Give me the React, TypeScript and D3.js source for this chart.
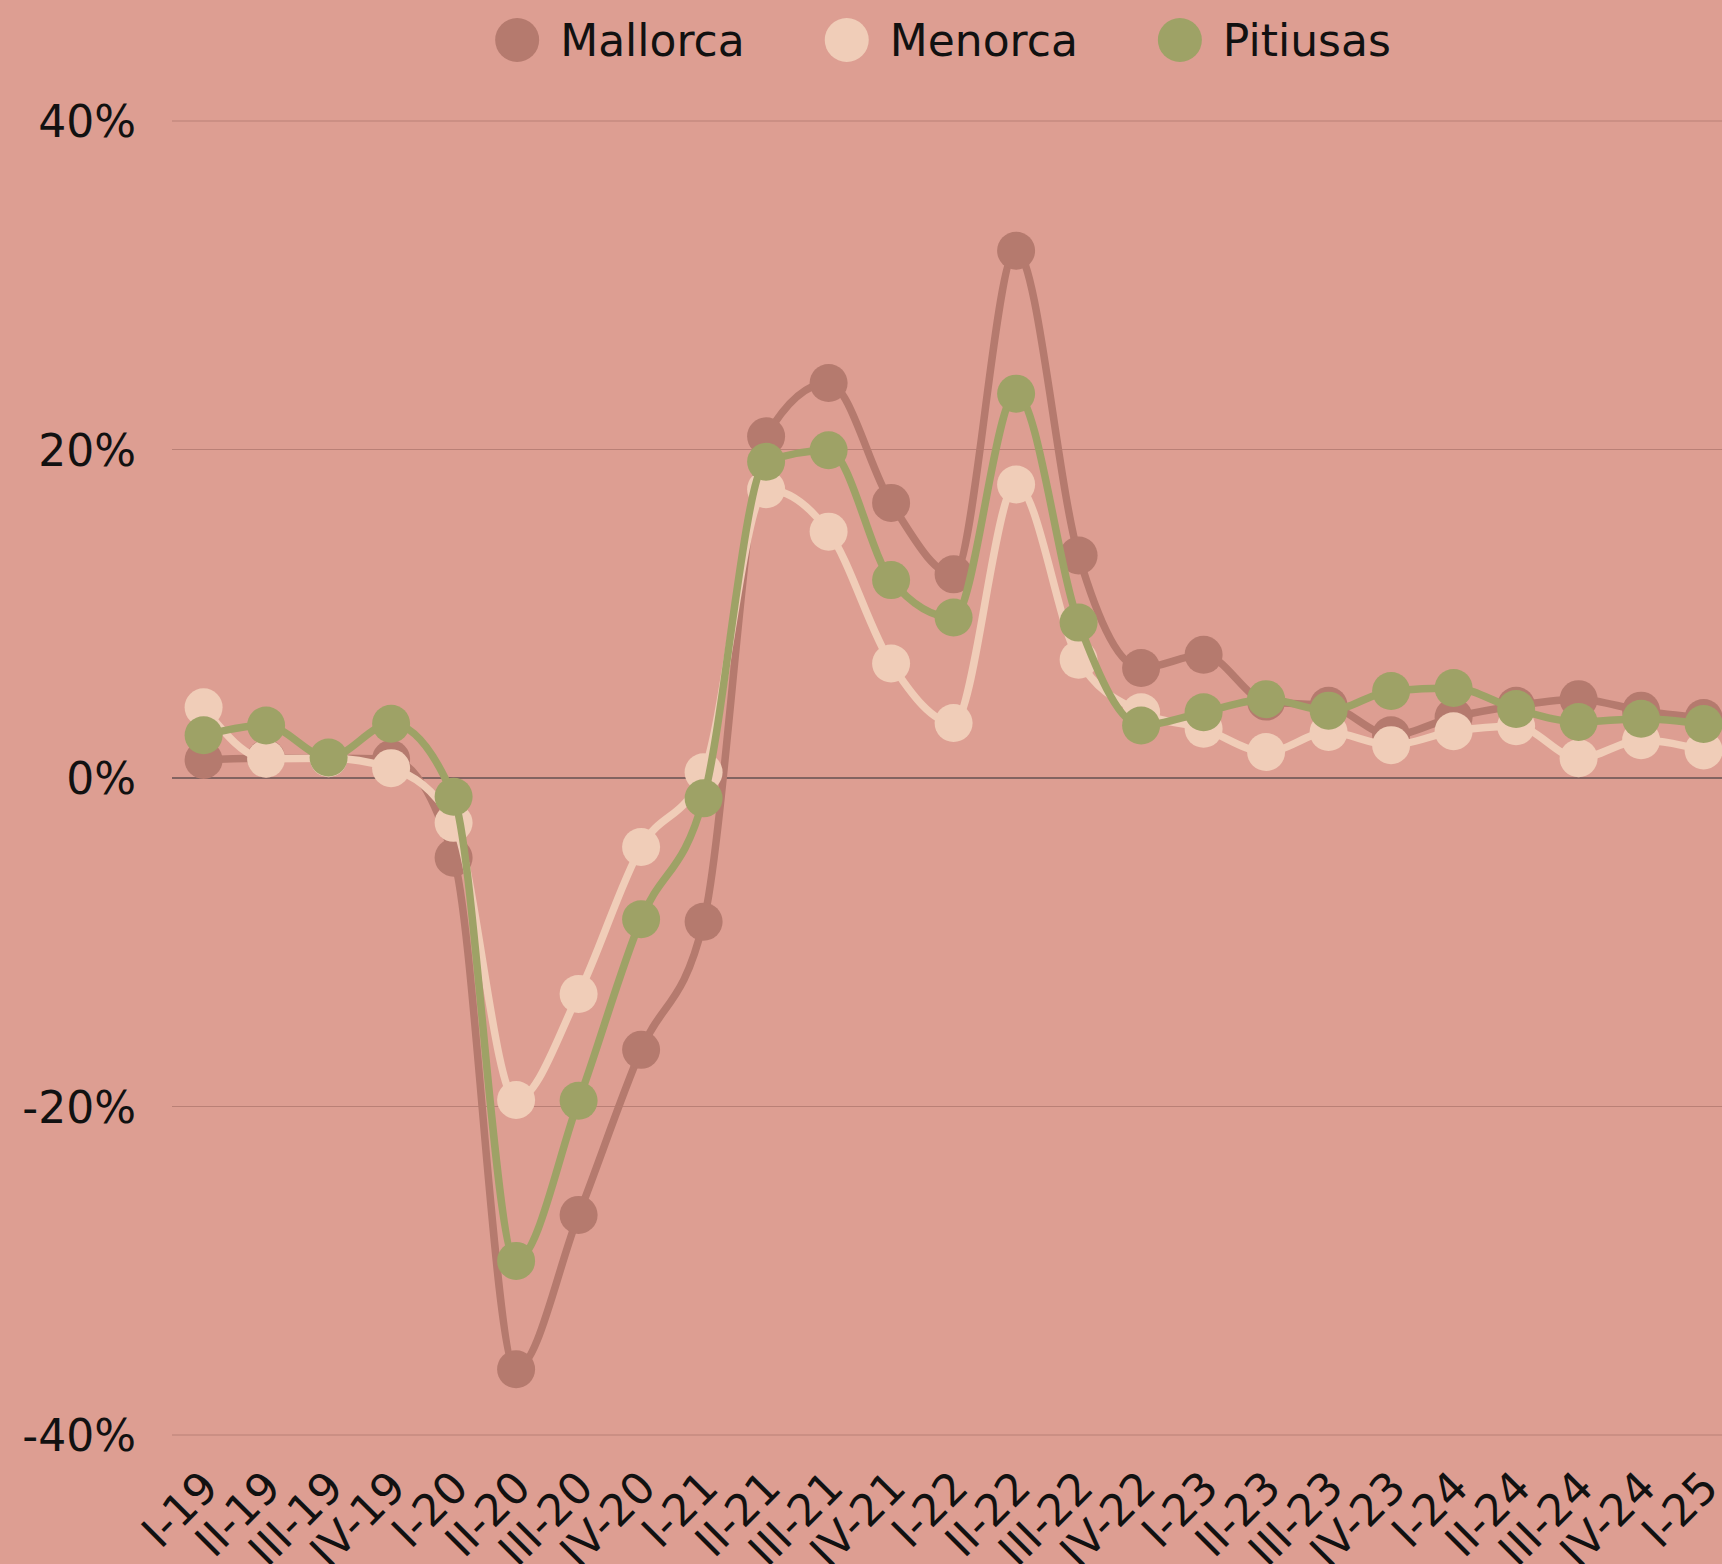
import { useEffect, useRef } from 'react';
import * as d3 from 'd3';

// quarters, I-19 .. I-25
const quarters = [
  'I-19', 'II-19', 'III-19', 'IV-19',
  'I-20', 'II-20', 'III-20', 'IV-20',
  'I-21', 'II-21', 'III-21', 'IV-21',
  'I-22', 'II-22', 'III-22', 'IV-22',
  'I-23', 'II-23', 'III-23', 'IV-23',
  'I-24', 'II-24', 'III-24', 'IV-24',
  'I-25',
];

const mallorca = [
  1.1, 1.2, 1.2, 1.15, -4.85, -36.0, -26.6, -16.55, -8.75, 20.8, 24.05, 16.75,
  12.4, 32.1, 13.55, 6.7, 7.5, 4.65, 4.4, 2.6, 3.7, 4.4, 4.8, 4.1, 3.65,
];

const menorca = [
  4.3, 1.17, 1.2, 0.6, -2.73, -19.6, -13.15, -4.2, 0.35, 17.58, 15.0, 6.97,
  3.35, 17.87, 7.2, 4.0, 3.0, 1.58, 2.8, 2.0, 2.85, 3.15, 1.2, 2.3, 1.68,
];

const pitiusas = [
  2.6, 3.2, 1.25, 3.3, -1.14, -29.4, -19.65, -8.6, -1.24, 19.25, 19.95, 12.05,
  9.77, 23.4, 9.46, 3.2, 4.0, 4.8, 4.1, 5.3, 5.48, 4.2, 3.41, 3.61, 3.29,
];

const seriesNames = ['Mallorca', 'Menorca', 'Pitiusas'];
const seriesColors = ['#b57a6e', '#f0cdb8', '#9ea266'];
const yTicks = [40, 20, 0, -20, -40];

const App = () => {
  const svgRef = useRef<SVGSVGElement>(null);

  useEffect(() => {
    document.body.style.margin = '0';

    const svg = d3.select(svgRef.current);
    svg.selectAll('*').remove();

    // ==========================================
    // SVG SETUP
    // ==========================================
    const width = 1722;
    const height = 1564;
    const font = '"DejaVu Sans", sans-serif';

    svg.attr('width', width).attr('height', height).style('display', 'block');

    svg.append('rect')
      .attr('width', width)
      .attr('height', height)
      .attr('fill', '#dd9e92');

    // ==========================================
    // SCALES
    // ==========================================
    const xScale = d3.scalePoint<string>()
      .domain(quarters)
      .range([203.6, 1703.6]);

    const yScale = d3.scaleLinear()
      .domain([-40, 40])
      .range([1435, 121]);

    const gridLeft = 172;

    // ==========================================
    // GRID + Y LABELS
    // ==========================================
    const grid = svg.append('g');

    grid.selectAll('line')
      .data(yTicks)
      .enter()
      .append('line')
      .attr('x1', gridLeft)
      .attr('x2', width)
      .attr('y1', (d) => yScale(d))
      .attr('y2', (d) => yScale(d))
      .attr('stroke', (d) => (d === 0 ? '#655150' : '#ba8076'))
      .attr('stroke-width', (d) => (d === 0 ? 1.5 : 1.2));

    grid.selectAll('text')
      .data(yTicks)
      .enter()
      .append('text')
      .attr('x', 136)
      .attr('y', (d) => yScale(d) + 16)
      .attr('text-anchor', 'end')
      .style('font-family', font)
      .style('font-size', '44px')
      .attr('fill', '#111')
      .text((d) => `${d}%`);

    // ==========================================
    // X LABELS
    // ==========================================
    svg.append('g')
      .selectAll('text')
      .data(quarters)
      .enter()
      .append('text')
      .attr('transform', (d) => `translate(${(xScale(d) as number) + 17}, 1490) rotate(-45)`)
      .attr('text-anchor', 'end')
      .style('font-family', font)
      .style('font-size', '44px')
      .attr('fill', '#111')
      .text((d) => d);

    // ==========================================
    // LINES + MARKERS
    // ==========================================
    const allSeries = [mallorca, menorca, pitiusas];

    const line = d3.line<number>()
      .x((_, i) => xScale(quarters[i]) as number)
      .y((d) => yScale(d))
      .curve(d3.curveMonotoneX);

    allSeries.forEach((values, s) => {
      const g = svg.append('g');

      g.append('path')
        .attr('d', line(values))
        .attr('fill', 'none')
        .attr('stroke', seriesColors[s])
        .attr('stroke-width', 7.5);

      g.selectAll('circle')
        .data(values)
        .enter()
        .append('circle')
        .attr('cx', (_, i) => xScale(quarters[i]) as number)
        .attr('cy', (d) => yScale(d))
        .attr('r', 19)
        .attr('fill', seriesColors[s]);
    });

    // ==========================================
    // LEGEND
    // ==========================================
    const legend = svg.append('g');
    const items = seriesNames.map((name, i) => {
      const item = legend.append('g');
      item.append('circle')
        .attr('r', 22)
        .attr('cx', 22)
        .attr('cy', 40)
        .attr('fill', seriesColors[i]);
      const t = item.append('text')
        .attr('x', 65)
        .attr('y', 56)
        .style('font-family', font)
        .style('font-size', '44px')
        .attr('fill', '#111')
        .text(name);
      const w = 65 + (t.node() as SVGTextElement).getComputedTextLength();
      return { item, w };
    });

    const gap = 80;
    const total = d3.sum(items, (d) => d.w) + gap * (items.length - 1);
    let cursor = 943 - total / 2;
    items.forEach(({ item, w }) => {
      item.attr('transform', `translate(${cursor},0)`);
      cursor += w + gap;
    });
  }, []);

  return <svg ref={svgRef}></svg>;
};

export default App;
